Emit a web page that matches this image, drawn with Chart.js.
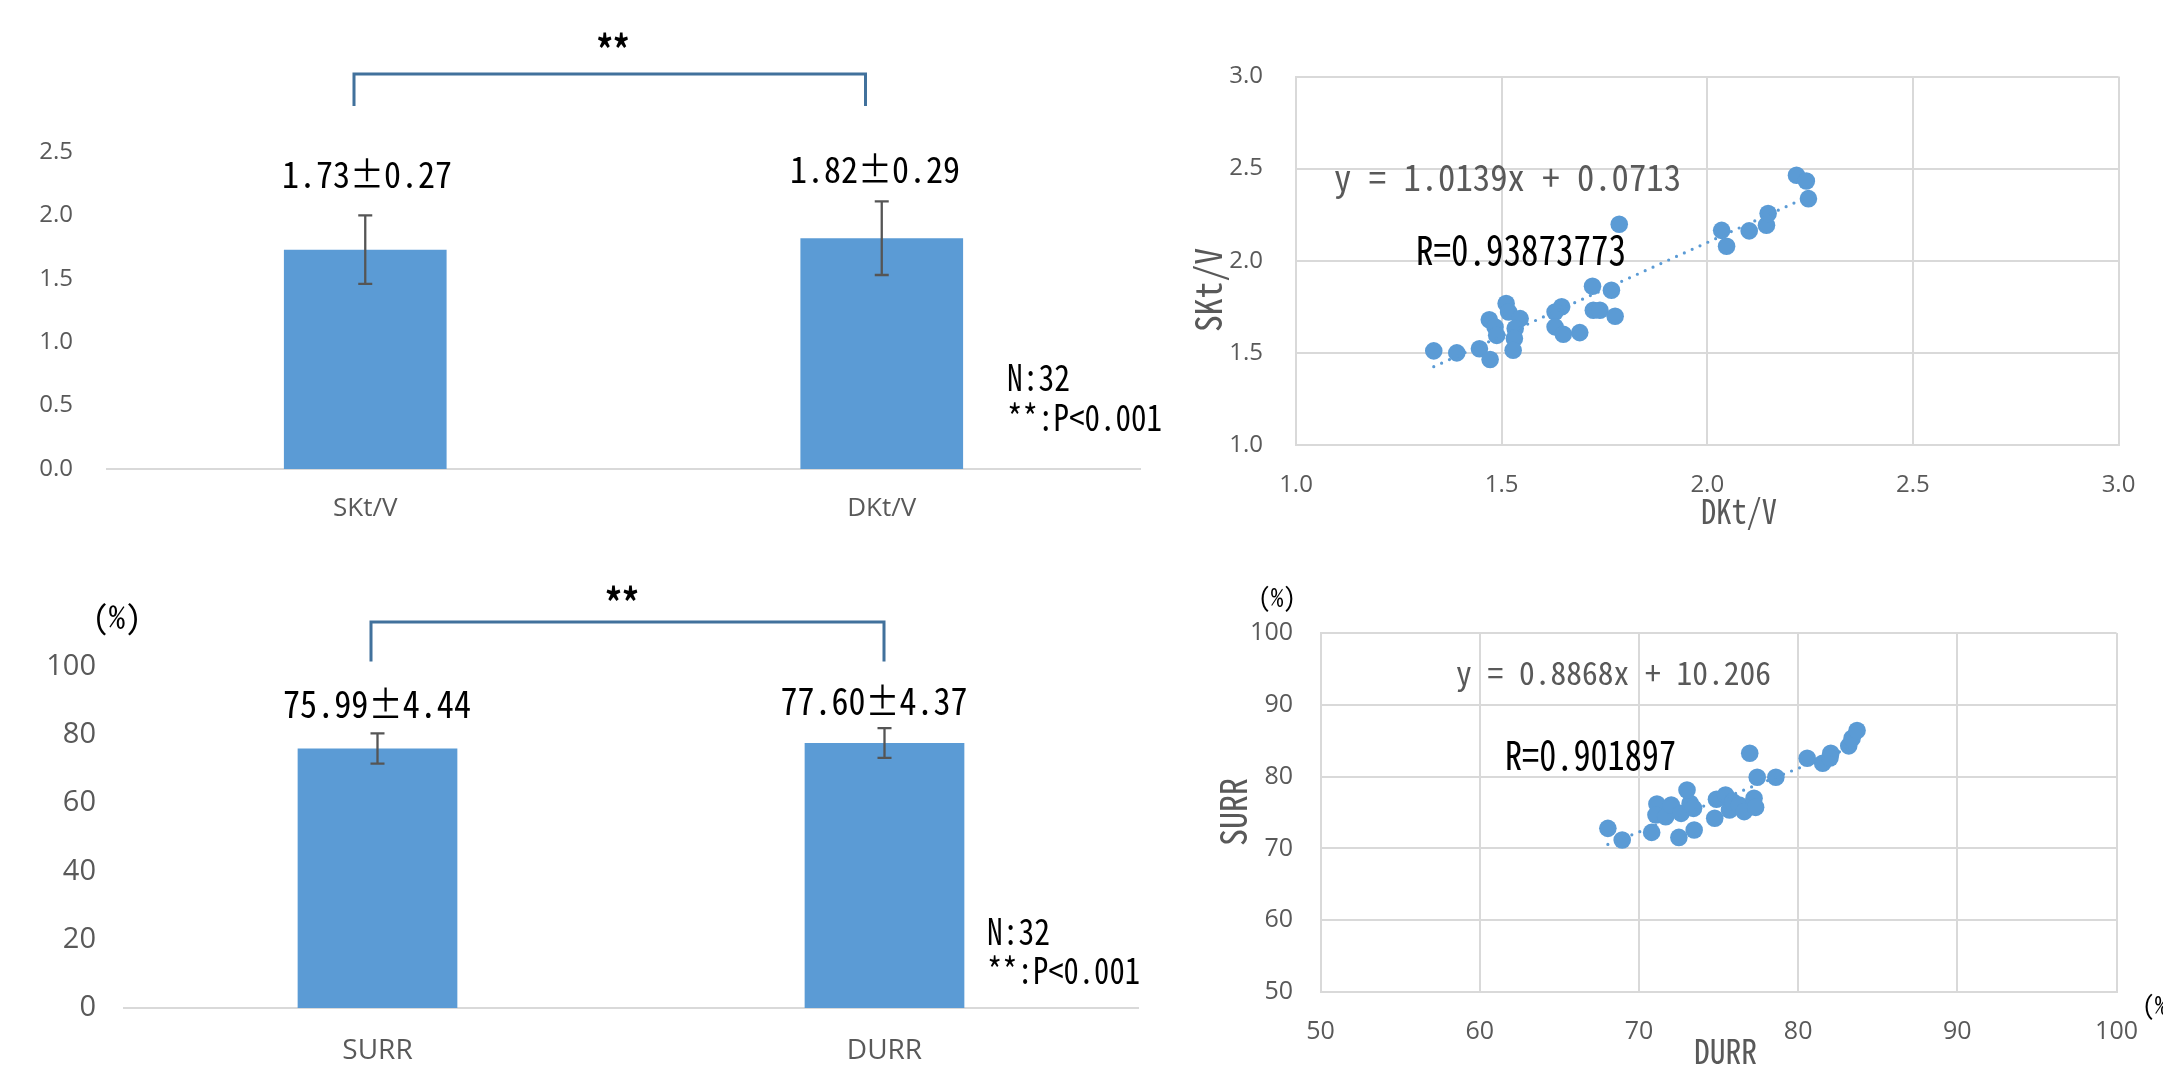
<!DOCTYPE html>
<html>
<head>
<meta charset="utf-8">
<script src="https://cdn.jsdelivr.net/npm/chart.js@4.4.1/dist/chart.umd.min.js"></script>
<style>
  html, body { margin: 0; padding: 0; background: #ffffff; width: 2163px; height: 1069px; overflow: hidden; }
  canvas { position: absolute; display: block; }
</style>
</head>
<body>
<canvas id="ktvBar"    width="1170" height="545" style="left:0;top:0;width:1170px;height:545px"></canvas>
<canvas id="urrBar"    width="1170" height="524" style="left:0;top:545px;width:1170px;height:524px"></canvas>
<canvas id="ktvScatter" width="993" height="545" style="left:1170px;top:0;width:993px;height:545px"></canvas>
<canvas id="urrScatter" width="993" height="524" style="left:1170px;top:545px;width:993px;height:524px"></canvas>
<script>
// ---- data ----
const nPatients = 32;
const pText = '**:P<0.001';

const ktvCategories = ['SKt/V', 'DKt/V'];
const ktvMeans = [1.73, 1.82];
const ktvSDs = [0.27, 0.29];

const urrCategories = ['SURR', 'DURR'];
const urrMeans = [75.99, 77.60];
const urrSDs = [4.44, 4.37];

// paired Kt/V values (DKt/V on x, SKt/V on y)
const dktv = [1.335, 1.391, 1.446, 1.472, 1.470, 1.484, 1.488, 1.511, 1.517, 1.545, 1.533, 1.531, 1.528,
              1.646, 1.630, 1.630, 1.650, 1.690, 1.721, 1.723, 1.739, 1.767, 1.776, 1.786,
              2.035, 2.047, 2.102, 2.144, 2.148, 2.217, 2.241, 2.246];
const sktv = [1.511, 1.500, 1.522, 1.464, 1.680, 1.640, 1.595, 1.768, 1.722, 1.686, 1.632, 1.578, 1.514,
              1.750, 1.722, 1.641, 1.601, 1.610, 1.862, 1.731, 1.731, 1.840, 1.699, 2.198,
              2.165, 2.079, 2.162, 2.193, 2.256, 2.464, 2.433, 2.337];

// paired URR values in % (DURR on x, SURR on y)
const durr = [68.05, 68.95, 70.80, 71.13, 71.07, 71.68, 72.03, 72.51, 72.65, 73.22, 73.02, 73.47, 73.43,
              74.76, 74.87, 75.44, 75.69, 75.89, 76.30, 76.61, 77.23, 77.33, 76.96, 77.43, 78.60,
              80.57, 81.54, 82.05, 82.00, 83.18, 83.39, 83.70];
const surr = [72.79, 71.16, 72.23, 76.19, 74.65, 74.42, 76.05, 71.53, 74.88, 76.28, 78.14, 72.56, 75.58,
              74.19, 76.84, 77.44, 75.35, 76.51, 76.05, 75.12, 76.98, 75.72, 83.26, 79.91, 79.91,
              82.56, 81.86, 83.26, 82.60, 84.28, 85.35, 86.42];

// linear fits
const ktvSlope = 1.0139, ktvIntercept = 0.0713, ktvR = 0.93873773;
const urrSlope = 0.8868, urrIntercept = 10.206, urrR = 0.901897;

// ---- styling ----
const BLUE = '#5B9BD5';
const GRID = '#D9D9D9';
const TICK = '#595959';
const BRACKET = '#41719C';
const TICK_FONT = '"Open Sans", "Noto Sans", sans-serif';
const CJK_FONT = '"Noto Sans Mono CJK JP", "Noto Sans CJK JP", sans-serif';

// text squeezed horizontally to a given width, centred on its cap height
function drawFitted(ctx, t) {
  ctx.save();
  ctx.font = `${t.weight || 'normal'} ${t.size}px ${t.family || CJK_FONT}`;
  ctx.fillStyle = t.color || '#000000';
  const w = ctx.measureText(t.text).width;
  const sx = t.width ? t.width / w : 1;
  ctx.translate(t.x, t.y);
  if (t.rotate) ctx.rotate(t.rotate);
  ctx.scale(sx, 1);
  ctx.textAlign = t.align || 'center';
  if (t.middle) {
    ctx.textBaseline = 'middle';
    ctx.fillText(t.text, 0, 0);
  } else {
    ctx.textBaseline = 'alphabetic';
    ctx.fillText(t.text, 0, t.size * 0.733 / 2);
  }
  ctx.restore();
}

const notesPlugin = {
  id: 'notes',
  afterDraw(chart, args, opts) {
    const ctx = chart.ctx;
    (opts.items || []).forEach(it => {
      if (it.type === 'bracket') {
        ctx.save();
        ctx.strokeStyle = it.color;
        ctx.lineWidth = it.lineWidth;
        ctx.lineJoin = 'miter';
        ctx.beginPath();
        ctx.moveTo(it.x1, it.legY);
        ctx.lineTo(it.x1, it.y);
        ctx.lineTo(it.x2, it.y);
        ctx.lineTo(it.x2, it.legY);
        ctx.stroke();
        ctx.restore();
      } else {
        drawFitted(ctx, it);
      }
    });
  }
};

// mean ± SD whiskers on each bar
const errorBarPlugin = {
  id: 'errorBars',
  afterDatasetsDraw(chart, args, opts) {
    const ctx = chart.ctx;
    const yScale = chart.scales.y;
    const values = chart.data.datasets[0].data;
    chart.getDatasetMeta(0).data.forEach((bar, i) => {
      const top = yScale.getPixelForValue(values[i] + opts.sd[i]);
      const bottom = yScale.getPixelForValue(values[i] - opts.sd[i]);
      const half = opts.capWidth / 2;
      ctx.save();
      ctx.strokeStyle = opts.color;
      ctx.lineWidth = opts.lineWidth;
      ctx.beginPath();
      ctx.moveTo(bar.x, top); ctx.lineTo(bar.x, bottom);
      ctx.moveTo(bar.x - half, top); ctx.lineTo(bar.x + half, top);
      ctx.moveTo(bar.x - half, bottom); ctx.lineTo(bar.x + half, bottom);
      ctx.stroke();
      ctx.restore();
    });
  }
};

const meanSd = (m, s) => `${m.toFixed(2)}±${s.toFixed(2)}`;

function barChart(id, cfg) {
  return new Chart(document.getElementById(id), {
    type: 'bar',
    data: {
      labels: cfg.labels,
      datasets: [{ data: cfg.means, backgroundColor: BLUE, borderWidth: 0,
                   barPercentage: 1, categoryPercentage: 0.315 }]
    },
    options: {
      responsive: false, animation: false, devicePixelRatio: 1,
      layout: { padding: cfg.padding },
      scales: {
        x: {
          grid: { display: false, drawTicks: false, tickLength: 0 },
          border: { display: true, color: GRID, width: 2 },
          ticks: { color: TICK, font: { family: TICK_FONT, size: cfg.xFont }, padding: cfg.xPad },
          afterFit: s => { s.height = cfg.xHeight; }
        },
        y: {
          min: cfg.min, max: cfg.max,
          grid: { display: false, drawTicks: false, tickLength: 0 },
          border: { display: false },
          ticks: { stepSize: cfg.step, color: TICK, padding: cfg.yPad,
                   font: { family: TICK_FONT, size: cfg.yFont },
                   callback: cfg.fmt },
          afterFit: s => { s.width = cfg.yWidth; }
        }
      },
      plugins: {
        legend: { display: false },
        tooltip: { enabled: false },
        errorBars: { sd: cfg.sds, color: '#555555', lineWidth: 2.3, capWidth: 14 },
        notes: { items: cfg.notes }
      }
    },
    plugins: [errorBarPlugin, notesPlugin]
  });
}

function scatterChart(id, cfg) {
  const pts = cfg.xs.map((x, i) => ({ x, y: cfg.ys[i] }));
  const x0 = Math.min(...cfg.xs), x1 = Math.max(...cfg.xs);
  const fit = [{ x: x0, y: cfg.slope * x0 + cfg.intercept }, { x: x1, y: cfg.slope * x1 + cfg.intercept }];
  return new Chart(document.getElementById(id), {
    type: 'scatter',
    data: {
      datasets: [
        { data: fit, showLine: true, borderColor: BLUE, borderWidth: 3.2, borderDash: [0, 8.6],
          borderCapStyle: 'round', pointRadius: 0, order: 1 },
        { data: pts, backgroundColor: BLUE, borderColor: BLUE, borderWidth: 0,
          pointRadius: 8.8, pointHoverRadius: 8.8, order: 2 }
      ]
    },
    options: {
      responsive: false, animation: false, devicePixelRatio: 1,
      layout: { padding: cfg.padding },
      scales: {
        x: {
          type: 'linear', min: cfg.xMin, max: cfg.xMax,
          grid: { color: GRID, lineWidth: 2, drawTicks: false, tickLength: 0 },
          border: { color: GRID, width: 2 },
          ticks: { stepSize: cfg.step, color: TICK, padding: cfg.xPad,
                   font: { family: TICK_FONT, size: cfg.font }, callback: cfg.fmt },
          afterFit: s => { s.height = cfg.xHeight; }
        },
        y: {
          type: 'linear', min: cfg.yMin, max: cfg.yMax,
          grid: { color: GRID, lineWidth: 2, drawTicks: false, tickLength: 0 },
          border: { color: GRID, width: 2 },
          ticks: { stepSize: cfg.step, color: TICK, padding: cfg.yPad,
                   font: { family: TICK_FONT, size: cfg.font }, callback: cfg.fmt },
          afterFit: s => { s.width = cfg.yWidth; }
        }
      },
      plugins: {
        legend: { display: false },
        tooltip: { enabled: false },
        notes: { items: cfg.notes }
      }
    },
    plugins: [notesPlugin]
  });
}

const fmt1 = v => Number(v).toFixed(1);
const fmt0 = v => String(Math.round(v));

// Kt/V bars
barChart('ktvBar', {
  labels: ktvCategories, means: ktvMeans, sds: ktvSDs,
  min: 0, max: 2.5, step: 0.5, fmt: fmt1,
  padding: { left: 0, right: 30, top: 152, bottom: 0 },
  yWidth: 107, xHeight: 76, xFont: 26, yFont: 24, xPad: 24, yPad: 34,
  notes: [
    { type: 'bracket', x1: 354, x2: 865.5, y: 74, legY: 106, color: BRACKET, lineWidth: 3 },
    { text: '**', x: 613, y: 50, size: 40, width: 33, weight: 'bold', middle: true },
    { text: meanSd(ktvMeans[0], ktvSDs[0]), x: 367, y: 175, size: 36, width: 170 },
    { text: meanSd(ktvMeans[1], ktvSDs[1]), x: 875, y: 170, size: 36, width: 170 },
    { text: `N:${nPatients}`, x: 1007, y: 378, size: 36, width: 63, align: 'left' },
    { text: pText, x: 1007, y: 418, size: 36, width: 155, align: 'left' }
  ]
});

// URR bars
barChart('urrBar', {
  labels: urrCategories, means: urrMeans, sds: urrSDs,
  min: 0, max: 100, step: 20, fmt: fmt0,
  padding: { left: 0, right: 32, top: 121.5, bottom: 0 },
  yWidth: 124, xHeight: 61, xFont: 28, yFont: 29, xPad: 26, yPad: 28,
  notes: [
    { text: '(%)', x: 117, y: 72, size: 32, width: 49, middle: true },
    { type: 'bracket', x1: 371, x2: 884, y: 77, legY: 116.5, color: BRACKET, lineWidth: 3 },
    { text: '**', x: 622, y: 58, size: 40, width: 34, weight: 'bold', middle: true },
    { text: meanSd(urrMeans[0], urrSDs[0]), x: 377, y: 159, size: 38, width: 188 },
    { text: meanSd(urrMeans[1], urrSDs[1]), x: 874, y: 156, size: 38, width: 187 },
    { text: `N:${nPatients}`, x: 987, y: 387, size: 36, width: 63, align: 'left' },
    { text: pText, x: 987, y: 426, size: 36, width: 153, align: 'left' }
  ]
});

// Kt/V correlation
scatterChart('ktvScatter', {
  xs: dktv, ys: sktv, slope: ktvSlope, intercept: ktvIntercept,
  xMin: 1, xMax: 3, yMin: 1, yMax: 3, step: 0.5, fmt: fmt1, font: 24,
  padding: { left: 0, right: 44.5, top: 76.5, bottom: 0 },
  yWidth: 126, xHeight: 100, xPad: 26, yPad: 33,
  notes: [
    { text: `y = ${ktvSlope.toFixed(4)}x + ${ktvIntercept.toFixed(4)}`, x: 164, y: 178, size: 36, width: 347, color: TICK, align: 'left' },
    { text: `R=${ktvR}`, x: 246, y: 250, size: 40, width: 210, align: 'left' },
    { text: 'DKt/V', x: 569, y: 512, size: 34, width: 76, color: TICK },
    { text: 'SKt/V', x: 38.5, y: 290, size: 37, width: 84, color: TICK, rotate: -Math.PI / 2 }
  ]
});

// URR correlation
scatterChart('urrScatter', {
  xs: durr, ys: surr, slope: urrSlope, intercept: urrIntercept,
  xMin: 50, xMax: 100, yMin: 50, yMax: 100, step: 10, fmt: fmt0, font: 25,
  padding: { left: 0, right: 32.5, top: 88, bottom: 0 },
  yWidth: 150.5, xHeight: 77, xPad: 25, yPad: 27.5,
  notes: [
    { text: '(%)', x: 107, y: 52, size: 26, width: 38, middle: true },
    { text: '(%)', x: 972, y: 460, size: 26, width: 38, align: 'left', middle: true },
    { text: `y = ${urrSlope.toFixed(4)}x + ${urrIntercept.toFixed(3)}`, x: 286, y: 128, size: 32, width: 315, color: TICK, align: 'left' },
    { text: `R=${urrR}`, x: 335, y: 210, size: 40, width: 171, align: 'left' },
    { text: 'DURR', x: 555.5, y: 507, size: 34, width: 63, color: TICK },
    { text: 'SURR', x: 63, y: 267, size: 37, width: 68, color: TICK, rotate: -Math.PI / 2 }
  ]
});
</script>
</body>
</html>
